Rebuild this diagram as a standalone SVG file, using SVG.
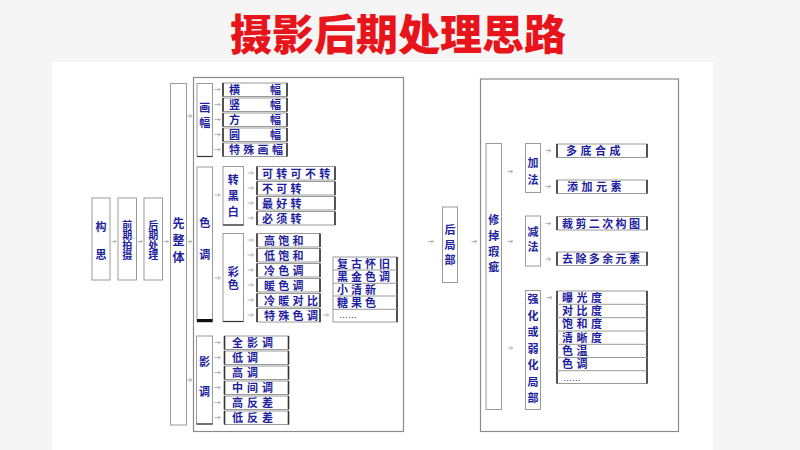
<svg xmlns="http://www.w3.org/2000/svg" width="800" height="450" viewBox="0 0 800 450">
<defs>
<style>
.t{font-family:"Noto Sans CJK SC","Noto Sans CJK JP",sans-serif;font-weight:bold;fill:#1e1e9e;font-size:11px}
.l{font-family:"Liberation Sans","Noto Sans CJK SC",sans-serif}
.v{writing-mode:vertical-rl;text-orientation:upright}
.dots{font-size:9px;font-weight:normal}
.title{font-family:"Noto Sans CJK SC","Noto Sans CJK JP",sans-serif;font-weight:900;fill:#e8141c;font-size:42px;text-anchor:middle}
.box{fill:#fff;stroke:#9a9a9a;stroke-width:1}
.cont{fill:none;stroke:#8a8a8a;stroke-width:1.2}
.edge{stroke:#333;stroke-width:1.6}
.row{stroke:#9a9a9a;stroke-width:1}
.arr{stroke:#b4b4b4;stroke-width:1;fill:none;marker-end:url(#ah)}
</style>
<marker id="ah" markerWidth="4" markerHeight="4" refX="3" refY="2" orient="auto" markerUnits="userSpaceOnUse">
<path d="M0,0 L3,2 L0,4" fill="none" stroke="#b4b4b4" stroke-width="0.8"/>
</marker>
</defs>
<rect x="0" y="0" width="800" height="450" fill="#f5f5f5"/>
<rect x="52" y="62" width="661" height="388" fill="#fff"/>
<text class="title" x="398" y="50">摄影后期处理思路</text>

<g id="container-left"><rect class="cont" x="193.5" y="77.5" width="210" height="354"/></g>
<g id="container-right"><rect class="cont" x="480.5" y="79" width="198" height="352.5"/></g>

<g id="n-gousi"><rect class="box" x="92" y="198" width="18" height="82"/><text class="t v" x="101" y="221.5" letter-spacing="17">构思</text></g>
<g id="n-qianqi"><rect class="box" x="118" y="198" width="18.5" height="82"/><text class="t v" x="127.3" y="220" style="font-size:10px">前期拍摄</text></g>
<g id="n-houqi"><rect class="box" x="144" y="198" width="18.5" height="82"/><text class="t v" x="153.3" y="220" style="font-size:10px">后期处理</text></g>
<g id="n-xianzhengti"><rect class="box" x="170.5" y="83.5" width="16" height="341.5"/><text class="t v" x="178.5" y="217" letter-spacing="5" style="font-size:12px">先整体</text></g>

<g id="n-huafu"><rect class="box" x="197" y="83.5" width="15.5" height="73"/><line class="edge" x1="197" y1="156.5" x2="212.5" y2="156.5" style="stroke-width:1.2"/><text class="t v" x="204.7" y="102.5" letter-spacing="4">画幅</text></g>
<g id="n-huafu-items">
<rect class="box" x="223" y="83" width="64" height="13.5"/><line class="edge" x1="223" y1="83" x2="223" y2="96.5"/><line class="edge" x1="287" y1="83" x2="287" y2="96.5"/><text class="t" x="229" y="94">横<tspan x="270">幅</tspan></text>
<rect class="box" x="223" y="98" width="64" height="13.5"/><line class="edge" x1="223" y1="98" x2="223" y2="111.5"/><line class="edge" x1="287" y1="98" x2="287" y2="111.5"/><text class="t" x="229" y="109">竖<tspan x="270">幅</tspan></text>
<rect class="box" x="223" y="113" width="64" height="13.5"/><line class="edge" x1="223" y1="113" x2="223" y2="126.5"/><line class="edge" x1="287" y1="113" x2="287" y2="126.5"/><text class="t" x="229" y="124">方<tspan x="270">幅</tspan></text>
<rect class="box" x="223" y="128" width="64" height="13.5"/><line class="edge" x1="223" y1="128" x2="223" y2="141.5"/><line class="edge" x1="287" y1="128" x2="287" y2="141.5"/><text class="t" x="229" y="139">圆<tspan x="270">幅</tspan></text>
<rect class="box" x="223" y="143" width="64" height="13.5"/><line class="edge" x1="223" y1="143" x2="223" y2="156.5"/><line class="edge" x1="287" y1="143" x2="287" y2="156.5"/><text class="t" x="229" y="154" letter-spacing="3.3">特殊画幅</text>
</g>

<g id="n-sediao"><rect class="box" x="197" y="167" width="15.5" height="155"/><line class="edge" x1="197" y1="320.5" x2="212.5" y2="320.5" style="stroke-width:3;stroke:#111"/><text class="t v" x="204.7" y="217.5" letter-spacing="21">色调</text></g>
<g id="n-zhuanheibai"><rect class="box" x="223" y="166.5" width="20.5" height="58.5"/><line class="edge" x1="223" y1="225" x2="243.5" y2="225" style="stroke-width:1.2"/><text class="t v" x="233.2" y="174.5" letter-spacing="4.8">转黑白</text></g>
<g id="n-zhb-items">
<rect class="box" x="257" y="166.5" width="78" height="13.5"/><line class="edge" x1="257" y1="166.5" x2="257" y2="180"/><line class="edge" x1="335" y1="166.5" x2="335" y2="180"/><text class="t" x="262" y="177.5" letter-spacing="3.3">可转可不转</text>
<rect class="box" x="257" y="181.5" width="78" height="13.5"/><line class="edge" x1="257" y1="181.5" x2="257" y2="195"/><line class="edge" x1="335" y1="181.5" x2="335" y2="195"/><text class="t" x="262" y="192.5" letter-spacing="3.3">不可转</text>
<rect class="box" x="257" y="196.5" width="78" height="13.5"/><line class="edge" x1="257" y1="196.5" x2="257" y2="210"/><line class="edge" x1="335" y1="196.5" x2="335" y2="210"/><text class="t" x="262" y="207.5" letter-spacing="3.3">最好转</text>
<rect class="box" x="257" y="211.5" width="78" height="13.5"/><line class="edge" x1="257" y1="211.5" x2="257" y2="225"/><line class="edge" x1="335" y1="211.5" x2="335" y2="225"/><text class="t" x="262" y="222.5" letter-spacing="3.3">必须转</text>
</g>
<g id="n-caise"><rect class="box" x="223" y="233.5" width="20.5" height="88"/><line class="edge" x1="223" y1="321.5" x2="243.5" y2="321.5" style="stroke-width:1.2"/><text class="t v" x="233.2" y="266" letter-spacing="2.5">彩色</text></g>
<g id="n-caise-items">
<rect class="box" x="257" y="233.5" width="63" height="13.5"/><line class="edge" x1="257" y1="233.5" x2="257" y2="247"/><line class="edge" x1="320" y1="233.5" x2="320" y2="247"/><text class="t" x="264" y="244.5" letter-spacing="3.3">高饱和</text>
<rect class="box" x="257" y="248.5" width="63" height="13.5"/><line class="edge" x1="257" y1="248.5" x2="257" y2="262"/><line class="edge" x1="320" y1="248.5" x2="320" y2="262"/><text class="t" x="264" y="259.5" letter-spacing="3.3">低饱和</text>
<rect class="box" x="257" y="263.5" width="63" height="13.5"/><line class="edge" x1="257" y1="263.5" x2="257" y2="277"/><line class="edge" x1="320" y1="263.5" x2="320" y2="277"/><text class="t" x="264" y="274.5" letter-spacing="3.3">冷色调</text>
<rect class="box" x="257" y="278.5" width="63" height="13.5"/><line class="edge" x1="257" y1="278.5" x2="257" y2="292"/><line class="edge" x1="320" y1="278.5" x2="320" y2="292"/><text class="t" x="264" y="289.5" letter-spacing="3.3">暖色调</text>
<rect class="box" x="257" y="293.5" width="63" height="13.5"/><line class="edge" x1="257" y1="293.5" x2="257" y2="307"/><line class="edge" x1="320" y1="293.5" x2="320" y2="307"/><text class="t" x="264" y="304.5" letter-spacing="3.3">冷暖对比</text>
<rect class="box" x="257" y="308.5" width="63" height="13.5"/><line class="edge" x1="257" y1="308.5" x2="257" y2="322"/><line class="edge" x1="320" y1="308.5" x2="320" y2="322"/><text class="t" x="264" y="319.5" letter-spacing="3.3">特殊色调</text>
</g>
<g id="n-special-list">
<rect class="box" x="333" y="257" width="64" height="65"/><line class="edge" x1="397" y1="257" x2="397" y2="322"/>
<line class="row" x1="333" y1="270" x2="397" y2="270"/><line class="row" x1="333" y1="283.3" x2="397" y2="283.3"/><line class="row" x1="333" y1="296" x2="397" y2="296"/><line class="row" x1="333" y1="309.3" x2="397" y2="309.3"/>
<text class="t l" x="337" y="267.5" letter-spacing="3">复古怀旧</text>
<text class="t l" x="337" y="280.5" letter-spacing="3">黑金色调</text>
<text class="t l" x="337" y="293.5" letter-spacing="3">小清新</text>
<text class="t l" x="337" y="306.5" letter-spacing="3">糖果色</text>
<text class="t l dots" x="339" y="318">……</text>
</g>

<g id="n-yingdiao"><rect class="box" x="196.5" y="336" width="16" height="88"/><line class="edge" x1="196.5" y1="424" x2="212.5" y2="424" style="stroke-width:1.2"/><text class="t v" x="204.5" y="356" letter-spacing="19">影调</text></g>
<g id="n-yingdiao-items">
<rect class="box" x="224.5" y="336" width="64" height="13.5"/><line class="edge" x1="224.5" y1="336" x2="224.5" y2="349.5"/><line class="edge" x1="288.5" y1="336" x2="288.5" y2="349.5"/><text class="t" x="232" y="347" letter-spacing="4">全影调</text>
<rect class="box" x="224.5" y="351" width="64" height="13.5"/><line class="edge" x1="224.5" y1="351" x2="224.5" y2="364.5"/><line class="edge" x1="288.5" y1="351" x2="288.5" y2="364.5"/><text class="t" x="232" y="362" letter-spacing="4">低调</text>
<rect class="box" x="224.5" y="366" width="64" height="13.5"/><line class="edge" x1="224.5" y1="366" x2="224.5" y2="379.5"/><line class="edge" x1="288.5" y1="366" x2="288.5" y2="379.5"/><text class="t" x="232" y="377" letter-spacing="4">高调</text>
<rect class="box" x="224.5" y="381" width="64" height="13.5"/><line class="edge" x1="224.5" y1="381" x2="224.5" y2="394.5"/><line class="edge" x1="288.5" y1="381" x2="288.5" y2="394.5"/><text class="t" x="232" y="392" letter-spacing="4">中间调</text>
<rect class="box" x="224.5" y="396" width="64" height="13.5"/><line class="edge" x1="224.5" y1="396" x2="224.5" y2="409.5"/><line class="edge" x1="288.5" y1="396" x2="288.5" y2="409.5"/><text class="t" x="232" y="407" letter-spacing="4">高反差</text>
<rect class="box" x="224.5" y="411" width="64" height="13.5"/><line class="edge" x1="224.5" y1="411" x2="224.5" y2="424.5"/><line class="edge" x1="288.5" y1="411" x2="288.5" y2="424.5"/><text class="t" x="232" y="422" letter-spacing="4">低反差</text>
</g>

<g id="n-houjubu"><rect class="box" x="442.5" y="207" width="15" height="75.5"/><text class="t v" x="450" y="224.5" letter-spacing="4">后局部</text></g>
<g id="n-xiudiao"><rect class="box" x="486" y="143.5" width="15.5" height="266"/><text class="t v" x="493.7" y="214.5" letter-spacing="4.7">修掉瑕疵</text></g>
<g id="n-jiafa"><rect class="box" x="525.5" y="143.5" width="15" height="49"/><text class="t v" x="533" y="157.5" letter-spacing="6">加法</text></g>
<g id="n-jiafa-items">
<rect class="box" x="557" y="144" width="90" height="13.5"/><line class="edge" x1="557" y1="144" x2="557" y2="157.5"/><line class="edge" x1="647" y1="144" x2="647" y2="157.5"/><text class="t" x="566" y="155" letter-spacing="3.5">多底合成</text>
<rect class="box" x="557" y="180" width="90" height="13.5"/><line class="edge" x1="557" y1="180" x2="557" y2="193.5"/><line class="edge" x1="647" y1="180" x2="647" y2="193.5"/><text class="t" x="567" y="191" letter-spacing="3.5">添加元素</text>
</g>
<g id="n-jianfa"><rect class="box" x="525.5" y="216" width="15" height="50"/><text class="t v" x="533" y="226" letter-spacing="4">减法</text></g>
<g id="n-jianfa-items">
<rect class="box" x="557" y="216.5" width="90" height="13.5"/><line class="edge" x1="557" y1="216.5" x2="557" y2="230"/><line class="edge" x1="647" y1="216.5" x2="647" y2="230"/><text class="t" x="562" y="227.5" letter-spacing="2.4">裁剪二次构图</text>
<rect class="box" x="557" y="252" width="90" height="13.5"/><line class="edge" x1="557" y1="252" x2="557" y2="265.5"/><line class="edge" x1="647" y1="252" x2="647" y2="265.5"/><text class="t" x="562" y="263" letter-spacing="2.4">去除多余元素</text>
</g>
<g id="n-qianghua"><rect class="box" x="525.5" y="290.5" width="15" height="119"/><text class="t v" x="533" y="293.5" letter-spacing="5.55">强化或弱化局部</text></g>
<g id="n-qianghua-list">
<rect class="box" x="557" y="291" width="90" height="92.5"/><line class="edge" x1="557" y1="291" x2="557" y2="383.5"/><line class="edge" x1="647" y1="291" x2="647" y2="383.5"/>
<line class="row" x1="557" y1="304.3" x2="647" y2="304.3"/><line class="row" x1="557" y1="317.7" x2="647" y2="317.7"/><line class="row" x1="557" y1="331" x2="647" y2="331"/><line class="row" x1="557" y1="344.3" x2="647" y2="344.3"/><line class="row" x1="557" y1="357.5" x2="647" y2="357.5"/><line class="row" x1="557" y1="370.7" x2="647" y2="370.7"/>
<text class="t l" x="562" y="301.5" letter-spacing="3.5">曝光度</text>
<text class="t l" x="562" y="315" letter-spacing="3.5">对比度</text>
<text class="t l" x="562" y="328.3" letter-spacing="3.5">饱和度</text>
<text class="t l" x="562" y="341.6" letter-spacing="3.5">清晰度</text>
<text class="t l" x="562" y="354.8" letter-spacing="3.5">色温</text>
<text class="t l" x="562" y="368" letter-spacing="3.5">色调</text>
<text class="t l dots" x="563" y="380.5">……</text>
</g>

<g id="connectors">
<path class="arr" d="M111.5,241.5 H116.5"/>
<path class="arr" d="M137.5,241.5 H142.5"/>
<path class="arr" d="M163.5,241.5 H168.5"/>
<path class="arr" d="M187.5,116 H192"/>
<path class="arr" d="M187.5,241.5 H192"/>
<path class="arr" d="M187.5,380 H192"/>
<path class="arr" d="M214.5,89.5 H220.5"/>
<path class="arr" d="M214.5,104.5 H220.5"/>
<path class="arr" d="M214.5,119.5 H220.5"/>
<path class="arr" d="M214.5,134.5 H220.5"/>
<path class="arr" d="M214.5,149.5 H220.5"/>
<path class="arr" d="M214.5,195 H220.5"/>
<path class="arr" d="M214.5,278 H220.5"/>
<path class="arr" d="M247.5,173 H253.5"/>
<path class="arr" d="M247.5,188 H253.5"/>
<path class="arr" d="M247.5,203 H253.5"/>
<path class="arr" d="M247.5,218 H253.5"/>
<path class="arr" d="M247.5,240 H253.5"/>
<path class="arr" d="M247.5,255 H253.5"/>
<path class="arr" d="M247.5,270 H253.5"/>
<path class="arr" d="M247.5,285 H253.5"/>
<path class="arr" d="M247.5,300 H253.5"/>
<path class="arr" d="M247.5,315 H253.5"/>
<path class="arr" d="M323,315 H329"/>
<path class="arr" d="M214.5,342.5 H220.5"/>
<path class="arr" d="M214.5,357.5 H220.5"/>
<path class="arr" d="M214.5,372.5 H220.5"/>
<path class="arr" d="M214.5,387.5 H220.5"/>
<path class="arr" d="M214.5,402.5 H220.5"/>
<path class="arr" d="M214.5,417.5 H220.5"/>
<path class="arr" d="M428,241.5 H433.5"/>
<path class="arr" d="M471.5,241.5 H477"/>
<path class="arr" d="M507.5,171.5 H513"/>
<path class="arr" d="M507.5,241.5 H513"/>
<path class="arr" d="M507.5,348 H513"/>
<path class="arr" d="M545.5,150.5 H551"/>
<path class="arr" d="M545.5,186.5 H551"/>
<path class="arr" d="M545.5,223.5 H551"/>
<path class="arr" d="M545.5,259 H551"/>
<path class="arr" d="M546.5,297.5 H552"/>
</g>
</svg>
